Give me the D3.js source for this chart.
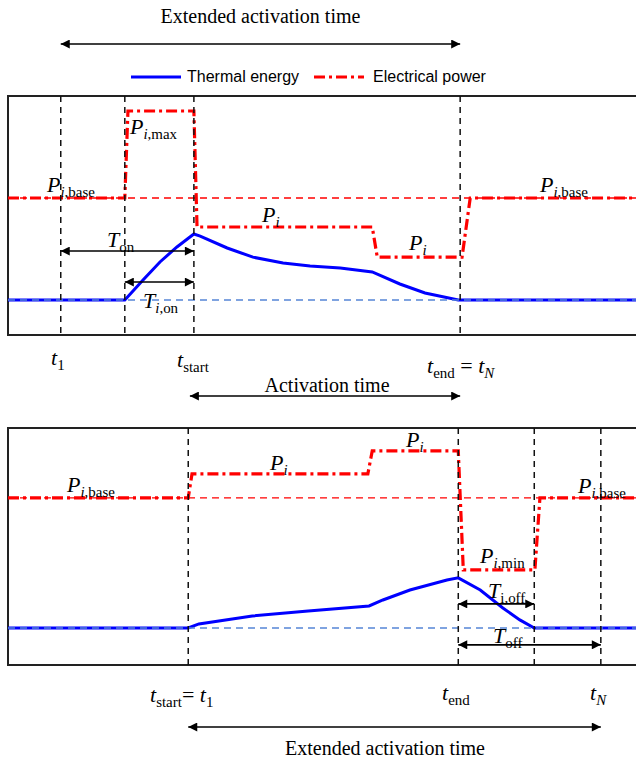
<!DOCTYPE html>
<html>
  <head>
    <meta charset="utf-8">
    <title>Activation time</title>
    <script src="https://cdn.jsdelivr.net/npm/d3@7"></script>
    <style>
      body { margin: 0; background: #fff; }
      text { font-family: "Liberation Serif", "Times New Roman", serif; fill: #000; }
      .legend text { font-family: "Liberation Sans", Arial, sans-serif; font-size: 16px; }
    </style>
  </head>

  <body>
    <svg id="chart" width="636" height="760"></svg>

    <script>
      // time axis runs 0..100 over the window, levels: 0 = thermal base, 1 = power base

      // top panel
      topEvents = [8.4, 18.6, 29.6, 72.0]; // t1, ramp start, t_start, t_end = t_N
      topPowerT = [0, 18.6, 19.1, 29.6, 30.1, 58.0, 58.8, 72.3, 73.6, 100];
      topPowerV = [1, 1, 1.853, 1.853, 0.716, 0.716, 0.42, 0.42, 1, 1];
      topHeatT = [0, 18.6, 21.5, 24.2, 26.9, 29.6, 30.6, 34.9, 39.0, 43.8, 48.1, 52.9, 58.0, 62.4, 66.4, 71.7, 100];
      topHeatV = [0, 0, 0.196, 0.373, 0.52, 0.647, 0.627, 0.51, 0.42, 0.363, 0.333, 0.314, 0.275, 0.157, 0.069, 0, 0];

      // bottom panel
      botEvents = [28.7, 71.7, 83.8, 94.4]; // t_start = t1, t_end, heat back at base, t_N
      botPowerT = [0, 28.7, 29.3, 57.3, 58.0, 71.7, 72.5, 83.9, 84.7, 100];
      botPowerV = [1, 1, 1.185, 1.185, 1.362, 1.362, 0.446, 0.446, 1, 1];
      botHeatT = [0, 28.7, 30.4, 38.9, 47.8, 57.5, 59.7, 64.0, 69.9, 71.7, 75.2, 78.8, 81.5, 83.8, 100];
      botHeatV = [0, 0, 0.031, 0.092, 0.131, 0.169, 0.215, 0.292, 0.369, 0.385, 0.292, 0.154, 0.062, 0, 0];

      legendLabels = ["Thermal energy", "Electrical power"];

      chart = d3.select("#chart");

      x = d3.scaleLinear().domain([0, 100]).range([8, 636]);
      topY = d3.scaleLinear().domain([-0.343, 2.0]).range([335, 96]);
      botY = d3.scaleLinear().domain([-0.285, 1.538]).range([665, 428]);

      // arrow head
      chart.append("defs")
        .append("marker")
          .attr("id", "head")
          .attr("viewBox", "0 0 10 10")
          .attr("refX", 10)
          .attr("refY", 5)
          .attr("markerWidth", 11)
          .attr("markerHeight", 9)
          .attr("markerUnits", "userSpaceOnUse")
          .attr("orient", "auto-start-reverse")
        .append("path")
          .attr("d", "M0,0L10,5L0,10Z")
          .attr("fill", "#000");

      function zip(ts, vs) {
        return ts.map(function(t, i) { return [t, vs[i]]; });
      }

      function arrow(x0, x1, yy) {
        chart.append("line")
          .attr("x1", x0).attr("x2", x1)
          .attr("y1", yy).attr("y2", yy)
          .attr("stroke", "#000")
          .attr("stroke-width", 1.6)
          .attr("marker-start", "url(#head)")
          .attr("marker-end", "url(#head)");
      }

      // parts: [text, italic, subscript]
      function label(px, py, parts, size) {
        size = size || 22;
        var txt = chart.append("text")
          .attr("x", px)
          .attr("y", py);
        var shift = 0;
        parts.forEach(function(p) {
          var target = p[2] ? 5 : 0;
          txt.append("tspan")
            .attr("dy", target - shift)
            .style("font-size", (p[2] ? size * 0.68 : size) + "px")
            .style("font-style", p[1] ? "italic" : "normal")
            .text(p[0]);
          shift = target;
        });
        return txt;
      }

      function panel(y, events, powerT, powerV, heatT, heatV) {
        var r = y.range();
        // frame without right side
        chart.append("path")
          .attr("d", "M636," + r[1] + "H" + x(0) + "V" + r[0] + "H636")
          .attr("fill", "none")
          .attr("stroke", "#222")
          .attr("stroke-width", 2);

        var line = d3.line()
          .x(function(d) { return x(d[0]); })
          .y(function(d) { return y(d[1]); });

        chart.append("path")
          .attr("d", line(zip(heatT, heatV)))
          .attr("fill", "none")
          .attr("stroke", "#0000ff")
          .attr("stroke-width", 3);
        chart.append("path")
          .attr("d", line(zip(powerT, powerV)))
          .attr("fill", "none")
          .attr("stroke", "#ff0000")
          .attr("stroke-width", 3.2)
          .attr("stroke-dasharray", "11,4,3,4");

        // reference levels
        chart.append("line")
          .attr("x1", x(0)).attr("x2", x(100))
          .attr("y1", y(1)).attr("y2", y(1))
          .attr("stroke", "#ff0000")
          .attr("stroke-width", 1.3)
          .attr("stroke-dasharray", "7,5");
        chart.append("line")
          .attr("x1", x(0)).attr("x2", x(100))
          .attr("y1", y(0)).attr("y2", y(0))
          .attr("stroke", "#5585d6")
          .attr("stroke-width", 1.4)
          .attr("stroke-dasharray", "7,5");

        // event markers
        chart.selectAll(null)
          .data(events)
          .enter()
          .append("line")
            .attr("x1", function(d) { return x(d); })
            .attr("x2", function(d) { return x(d); })
            .attr("y1", r[1])
            .attr("y2", r[0] + 2)
            .attr("stroke", "#111")
            .attr("stroke-width", 1.5)
            .attr("stroke-dasharray", "6,5");
      }

      panel(topY, topEvents, topPowerT, topPowerV, topHeatT, topHeatV);
      panel(botY, botEvents, botPowerT, botPowerV, botHeatT, botHeatV);

      // legend
      legend = chart.append("g").attr("class", "legend");
      legend.append("line")
        .attr("x1", 131).attr("x2", 181).attr("y1", 77).attr("y2", 77)
        .attr("stroke", "#0000ff").attr("stroke-width", 3);
      legend.append("text").attr("x", 187).attr("y", 82).text(legendLabels[0]);
      legend.append("line")
        .attr("x1", 314).attr("x2", 364).attr("y1", 77).attr("y2", 77)
        .attr("stroke", "#ff0000").attr("stroke-width", 3.2)
        .attr("stroke-dasharray", "11,4,3,4");
      legend.append("text").attr("x", 373).attr("y", 82).text(legendLabels[1]);

      // time spans
      chart.append("text")
        .attr("x", (x(topEvents[0]) + x(topEvents[3])) / 2)
        .attr("y", 23)
        .attr("text-anchor", "middle")
        .style("font-size", "20px")
        .text("Extended activation time");
      arrow(x(topEvents[0]), x(topEvents[3]), 44);
      arrow(x(topEvents[0]), x(topEvents[2]), topY(0.48));
      arrow(x(topEvents[1]), x(topEvents[2]), topY(0.176));
      chart.append("text")
        .attr("x", (x(topEvents[2]) + x(topEvents[3])) / 2)
        .attr("y", 392)
        .attr("text-anchor", "middle")
        .style("font-size", "20px")
        .text("Activation time");
      arrow(x(topEvents[2]) - 4, x(topEvents[3]), 396);

      arrow(x(botEvents[1]), x(botEvents[2]), botY(0.185));
      arrow(x(botEvents[1]), x(botEvents[3]), botY(-0.13));
      arrow(x(botEvents[0]), x(botEvents[3]), 727);
      chart.append("text")
        .attr("x", 385)
        .attr("y", 755)
        .attr("text-anchor", "middle")
        .style("font-size", "20px")
        .text("Extended activation time");

      // top panel labels
      label(47, 192, [["P", 1], ["i", 1, 1], [",base", 0, 1]]);
      label(130, 134, [["P", 1], ["i", 1, 1], [",max", 0, 1]]);
      label(262, 222, [["P", 1], ["i", 1, 1]]);
      label(409, 250, [["P", 1], ["i", 1, 1]]);
      label(540, 192, [["P", 1], ["i", 1, 1], [",base", 0, 1]]);
      label(107, 247, [["T", 1], ["on", 0, 1]]);
      label(143, 308, [["T", 1], ["i", 1, 1], [",on", 0, 1]]);
      label(51, 365, [["t", 1], ["1", 0, 1]]);
      label(177, 367, [["t", 1], ["start", 0, 1]]);
      label(427, 373, [["t", 1], ["end", 0, 1], [" = ", 0], ["t", 1], ["N", 1, 1]]);

      // bottom panel labels
      label(67, 492, [["P", 1], ["i", 1, 1], [",base", 0, 1]]);
      label(270, 470, [["P", 1], ["i", 1, 1]]);
      label(406, 447, [["P", 1], ["i", 1, 1]]);
      label(480, 563, [["P", 1], ["i", 1, 1], [",min", 0, 1]]);
      label(578, 493, [["P", 1], ["i", 1, 1], [",base", 0, 1]]);
      label(488, 598, [["T", 1], ["i,off", 0, 1]]);
      label(493, 643, [["T", 1], ["off", 0, 1]]);
      label(150, 702, [["t", 1], ["start", 0, 1], ["= ", 0], ["t", 1], ["1", 0, 1]]);
      label(442, 700, [["t", 1], ["end", 0, 1]]);
      label(590, 700, [["t", 1], ["N", 1, 1]]);
    </script>
  </body>
</html>
